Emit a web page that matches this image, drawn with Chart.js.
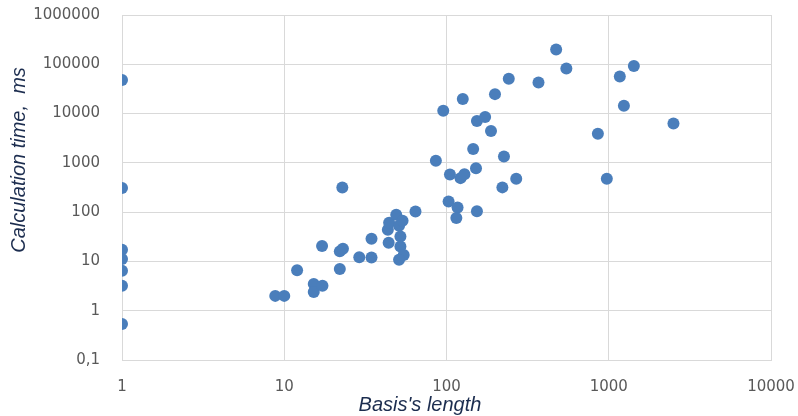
<!DOCTYPE html>
<html>
<head>
<meta charset="utf-8">
<script src="https://cdn.jsdelivr.net/npm/chart.js@4"></script>
<style>
  html, body { margin: 0; padding: 0; background: #fff; }
  #wrap { width: 798px; height: 416px; }
</style>
</head>
<body>
<div id="wrap"><canvas id="chart" width="798" height="416"></canvas></div>
<script>
// Data (log-log scatter)
const basisLength = [
  1, 1, 1, 1, 1, 1, 1,
  8.8, 10, 12, 15.2, 15.2, 17.2, 17.1,
  22, 22, 23, 22.8, 29, 34.5, 34.5,
  44, 43.5, 44.3, 49, 51, 52, 52, 53.6, 54.5, 51,
  64.4, 86, 95.5, 103, 105, 117, 115, 122, 129, 126,
  146, 152, 154, 154, 173, 188, 199, 226, 221, 269, 242,
  369, 474, 548, 857, 973, 1170, 1428, 1240, 2505
];
const calcTime = [
  47800, 310, 17.3, 11.2, 6.5, 3.2, 0.54,
  2.0, 2.0, 6.6, 3.5, 2.4, 3.2, 20.5,
  7.0, 16, 18, 315, 12.2, 12, 29,
  24, 44, 61, 89, 53, 32, 20, 67, 13.5, 10.8,
  103, 1100, 11400, 165, 580, 124, 76, 490, 590, 19700,
  1905, 775, 104, 7050, 8500, 4420, 24800, 1340, 318, 476, 50800,
  42800, 199000, 82200, 3890, 476, 56600, 91900, 14400, 6300
];
const xTicks = [1, 10, 100, 1000, 10000];
const yTicks = [0.1, 1, 10, 100, 1000, 10000, 100000, 1000000];

const points = basisLength.map((x, i) => ({ x: x, y: calcTime[i] }));

const gridColor = '#d9d9d9';
const tickFont = { family: 'DejaVu Sans', size: 15 };

// axis titles sit off-centre in the original, so draw them ourselves
const axisTitles = {
    id: 'axisTitles',
    afterDraw(chart) {
        const ctx = chart.ctx;
        ctx.save();
        ctx.fillStyle = '#1c2d4f';
        ctx.font = 'italic 20px "Liberation Sans", Arial, sans-serif';
        ctx.textAlign = 'center';
        ctx.textBaseline = 'alphabetic';
        ctx.fillText("Basis's length", 420, 411);
        ctx.translate(25, 160);
        ctx.rotate(-Math.PI / 2);
        ctx.fillText('Calculation time,  ms', 0, 0);
        ctx.restore();
    }
};

const ctx = document.getElementById('chart').getContext('2d');
new Chart(ctx, {
    type: 'scatter',
    data: {
        datasets: [{
            data: points,
            backgroundColor: '#4a7ebb',
            borderColor: '#4a7ebb',
            borderWidth: 0,
            pointRadius: 6,
            pointHoverRadius: 6
        }]
    },
    options: {
        responsive: false,
        animation: false,
        layout: { padding: { top: 15, right: 27, bottom: 0, left: 0 } },
        plugins: {
            legend: { display: false },
            tooltip: { enabled: false }
        },
        scales: {
            x: {
                type: 'logarithmic',
                min: 1,
                max: 10000,
                afterBuildTicks: s => { s.ticks = xTicks.map(v => ({ value: v })); },
                afterFit: s => {
                    s.height = 56;
                    s.paddingLeft = 0;
                    s.paddingRight = 0;
                },
                grid: { color: gridColor, drawTicks: false },
                border: { color: gridColor },
                ticks: {
                    color: '#595959',
                    font: tickFont,
                    padding: 18,
                    maxRotation: 0,
                    callback: v => String(v)
                }
            },
            y: {
                type: 'logarithmic',
                min: 0.1,
                max: 1000000,
                afterBuildTicks: s => { s.ticks = yTicks.map(v => ({ value: v })); },
                afterFit: s => {
                    s.width = 122;
                    s.paddingTop = 0;
                    s.paddingBottom = 0;
                },
                grid: { color: gridColor, drawTicks: false },
                border: { color: gridColor },
                ticks: {
                    color: '#595959',
                    font: tickFont,
                    padding: 22,
                    callback: v => String(v).replace('.', ',')
                }
            }
        }
    },
    plugins: [axisTitles]
});
</script>
</body>
</html>
